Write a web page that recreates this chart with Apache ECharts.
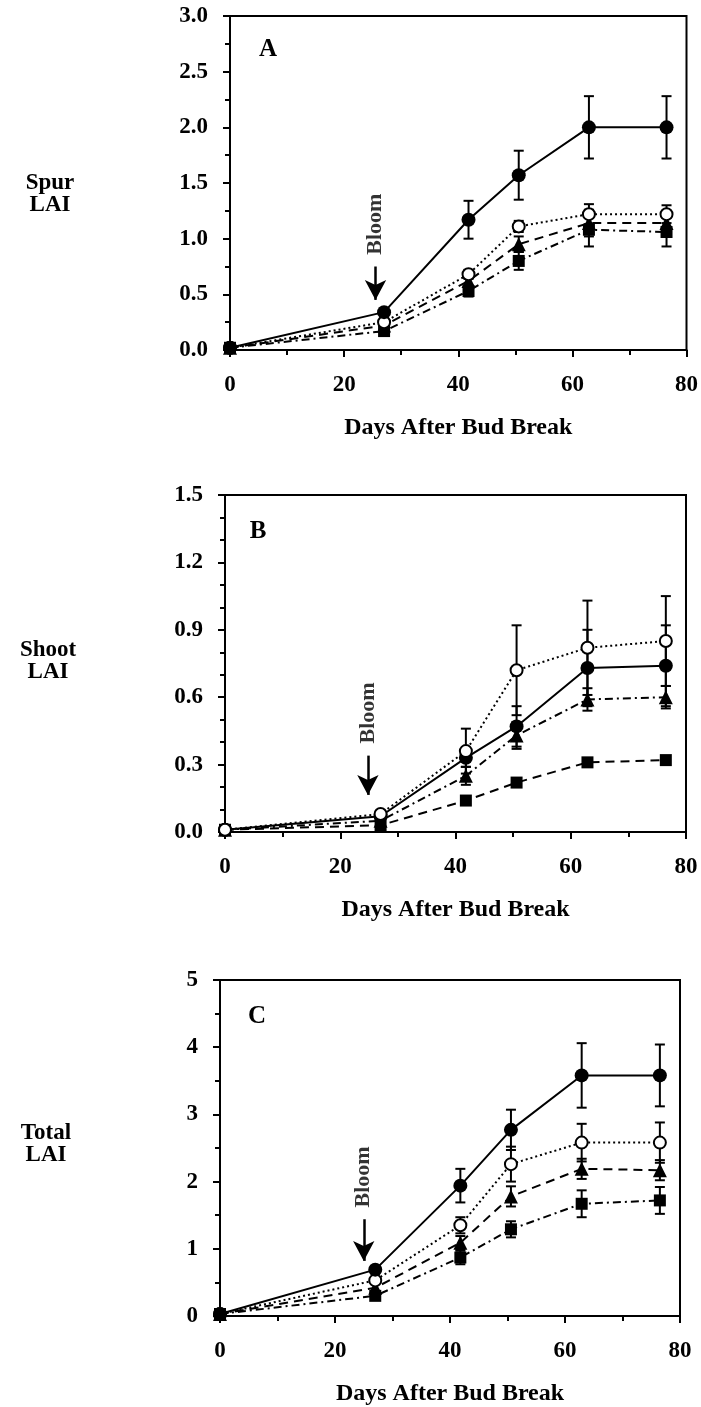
<!DOCTYPE html>
<html>
<head>
<meta charset="utf-8">
<script src="https://cdn.jsdelivr.net/npm/echarts@6/dist/echarts.min.js"></script>
<style>
  html, body { margin: 0; padding: 0; background: #fff; }
</style>
</head>
<body>
<div id="main" style="width: 701px;height:1407px;"></div>
<script type="text/javascript">
    // sampling days (x values shared by all panels)
    var days = [0, 27, 41.8, 50.6, 62.9, 76.5];
    var xTicks = [0, 20, 40, 60, 80];

    // A: spur LAI
    var spurFilled = [0.02, 0.34, 1.17, 1.57, 2.00, 2.00];
    var spurFilledErr = [0, 0.02, 0.17, 0.22, 0.28, 0.28];
    var spurOpen = [0.02, 0.25, 0.68, 1.11, 1.22, 1.22];
    var spurOpenErr = [0, 0, 0.04, 0.05, 0.09, 0.08];
    var spurTri = [0.02, 0.22, 0.62, 0.95, 1.14, 1.14];
    var spurTriErr = [0, 0, 0.05, 0.07, 0.12, 0.10];
    var spurSq = [0.02, 0.17, 0.53, 0.80, 1.08, 1.06];
    var spurSqErr = [0, 0.02, 0.05, 0.08, 0.15, 0.13];
    var spurTicks = [0, 0.5, 1.0, 1.5, 2.0, 2.5, 3.0];

    // B: shoot LAI
    var shootOpen = [0.01, 0.08, 0.36, 0.72, 0.82, 0.85];
    var shootOpenErr = [0, 0, 0.10, 0.20, 0.21, 0.20];
    var shootFilled = [0.01, 0.07, 0.33, 0.47, 0.73, 0.74];
    var shootFilledErr = [0, 0, 0.04, 0.09, 0.17, 0.18];
    var shootTri = [0.01, 0.05, 0.25, 0.43, 0.59, 0.60];
    var shootTriErr = [0, 0, 0.04, 0.06, 0.05, 0.05];
    var shootSq = [0.01, 0.03, 0.14, 0.22, 0.31, 0.32];
    var shootSqErr = [0, 0, 0, 0.01, 0.01, 0.01];
    var shootTicks = [0, 0.3, 0.6, 0.9, 1.2, 1.5];

    // C: total LAI
    var totalFilled = [0.03, 0.69, 1.94, 2.77, 3.58, 3.58];
    var totalFilledErr = [0, 0.05, 0.25, 0.30, 0.48, 0.46];
    var totalOpen = [0.03, 0.53, 1.35, 2.26, 2.58, 2.58];
    var totalOpenErr = [0, 0, 0.12, 0.26, 0.28, 0.30];
    var totalTri = [0.03, 0.42, 1.09, 1.78, 2.19, 2.17];
    var totalTriErr = [0, 0, 0.10, 0.15, 0.15, 0.15];
    var totalSq = [0.03, 0.30, 0.87, 1.29, 1.67, 1.72];
    var totalSqErr = [0, 0.05, 0.10, 0.12, 0.20, 0.20];
    var totalTicks = [0, 1, 2, 3, 4, 5];

    // bloom arrow: [day, arrow top, arrow tip, label centre] per panel
    var bloomA = [25.5, 0.75, 0.45, 1.13];
    var bloomB = [24.8, 0.34, 0.165, 0.53];
    var bloomC = [25.0, 1.44, 0.82, 2.07];

    var FONT = '"Liberation Serif", "Times New Roman", serif';
    var BLACK = '#000';

    var myChart = echarts.init(document.getElementById('main'));

    function pairs(ys) {
        return days.map(function (d, i) { return [d, ys[i]]; });
    }
    function errData(ys, es) {
        return days.map(function (d, i) { return [d, ys[i], es[i]]; });
    }

    function xAxisFor(idx) {
        return {
            gridIndex: idx, type: 'value',
            min: xTicks[0], max: xTicks[xTicks.length - 1], interval: 20,
            name: 'Days After Bud Break', nameLocation: 'middle', nameGap: 66,
            nameTextStyle: { fontFamily: FONT, fontWeight: 'bold', fontSize: 24, color: BLACK },
            axisLine: { show: true, onZero: false, lineStyle: { color: BLACK, width: 2 } },
            axisTick: { show: true, length: 7, lineStyle: { color: BLACK, width: 2 } },
            minorTick: { show: true, splitNumber: 2, length: 5, lineStyle: { color: BLACK, width: 2 } },
            splitLine: { show: false },
            axisLabel: { fontFamily: FONT, fontWeight: 'bold', fontSize: 23, color: BLACK, margin: 24 }
        };
    }

    function yAxisFor(idx, ticks, minorSplit, digits) {
        return {
            gridIndex: idx, type: 'value',
            min: ticks[0], max: ticks[ticks.length - 1], interval: ticks[1] - ticks[0],
            axisLine: { show: true, onZero: false, lineStyle: { color: BLACK, width: 2 } },
            axisTick: { show: true, length: 7, lineStyle: { color: BLACK, width: 2 } },
            minorTick: { show: true, splitNumber: minorSplit, length: 5, lineStyle: { color: BLACK, width: 2 } },
            splitLine: { show: false },
            axisLabel: {
                fontFamily: FONT, fontWeight: 'bold', fontSize: 23, color: BLACK, margin: 22,
                formatter: function (v) { return v.toFixed(digits); }
            }
        };
    }

    function lineSeries(idx, ys, symbol, size, open, dash) {
        return {
            type: 'line', xAxisIndex: idx, yAxisIndex: idx,
            data: pairs(ys), symbol: symbol, symbolSize: size, showSymbol: true,
            z: 3,
            lineStyle: { color: BLACK, width: 2, type: dash },
            itemStyle: open ? { color: '#fff', borderColor: BLACK, borderWidth: 2 }
                            : { color: BLACK, borderColor: BLACK, borderWidth: 0 }
        };
    }

    function errSeries(idx, ys, es) {
        return {
            type: 'custom', xAxisIndex: idx, yAxisIndex: idx,
            data: errData(ys, es), z: 2,
            encode: { x: 0, y: 1 },
            renderItem: function (params, api) {
                var x = api.value(0), y = api.value(1), e = api.value(2);
                if (!e) return null;
                var top = api.coord([x, y + e]);
                var bot = api.coord([x, y - e]);
                var w = 5;
                var st = { stroke: BLACK, lineWidth: 2 };
                return {
                    type: 'group',
                    children: [
                        { type: 'line', shape: { x1: top[0], y1: top[1], x2: bot[0], y2: bot[1] }, style: st },
                        { type: 'line', shape: { x1: top[0] - w, y1: top[1], x2: top[0] + w, y2: top[1] }, style: st },
                        { type: 'line', shape: { x1: bot[0] - w, y1: bot[1], x2: bot[0] + w, y2: bot[1] }, style: st }
                    ]
                };
            }
        };
    }

    function bloomSeries(idx, b) {
        return {
            type: 'scatter', xAxisIndex: idx, yAxisIndex: idx,
            data: [[b[0], b[3]]], symbolSize: 0, z: 4,
            label: {
                show: true, position: 'inside', rotate: 90,
                formatter: 'Bloom',
                fontFamily: FONT, fontWeight: 'bold', fontSize: 22, color: BLACK
            },
            markLine: {
                silent: true, symbol: ['none', 'arrow'], symbolSize: [16, 20],
                label: { show: false },
                lineStyle: { color: BLACK, width: 2.5, type: 'solid' },
                data: [[{ coord: [b[0], b[1]] }, { coord: [b[0], b[2]] }]]
            }
        };
    }

    var dotted = [2, 3];
    var dashed = [9, 6];
    var dashDot = [8, 4, 2, 4];

    var option = {
        animation: false,
        backgroundColor: '#fff',
        grid: [
            { left: 230, right: 11, top: 16, height: 334, show: true, borderColor: BLACK, borderWidth: 2 },
            { left: 225, right: 15, top: 495, height: 337, show: true, borderColor: BLACK, borderWidth: 2 },
            { left: 220, right: 21, top: 980, height: 337, show: true, borderColor: BLACK, borderWidth: 2 }
        ],
        xAxis: [xAxisFor(0), xAxisFor(1), xAxisFor(2)],
        yAxis: [
            yAxisFor(0, spurTicks, 2, 1),
            yAxisFor(1, shootTicks, 3, 1),
            yAxisFor(2, totalTicks, 2, 0)
        ],
        graphic: [
            { type: 'text', x: 50, y: 194, style: { text: 'Spur\nLAI', font: 'bold 23px ' + FONT, align: 'center', verticalAlign: 'middle', lineHeight: 22, fill: BLACK } },
            { type: 'text', x: 48, y: 661, style: { text: 'Shoot\nLAI', font: 'bold 23px ' + FONT, align: 'center', verticalAlign: 'middle', lineHeight: 22, fill: BLACK } },
            { type: 'text', x: 46, y: 1144, style: { text: 'Total\nLAI', font: 'bold 23px ' + FONT, align: 'center', verticalAlign: 'middle', lineHeight: 22, fill: BLACK } },
            { type: 'text', x: 268, y: 50, style: { text: 'A', font: 'bold 25px ' + FONT, align: 'center', verticalAlign: 'middle', fill: BLACK } },
            { type: 'text', x: 258, y: 532, style: { text: 'B', font: 'bold 25px ' + FONT, align: 'center', verticalAlign: 'middle', fill: BLACK } },
            { type: 'text', x: 257, y: 1017, style: { text: 'C', font: 'bold 25px ' + FONT, align: 'center', verticalAlign: 'middle', fill: BLACK } }
        ],
        series: [
            // panel A
            errSeries(0, spurSq, spurSqErr),
            errSeries(0, spurTri, spurTriErr),
            errSeries(0, spurOpen, spurOpenErr),
            errSeries(0, spurFilled, spurFilledErr),
            lineSeries(0, spurSq, 'rect', 12, false, dashDot),
            lineSeries(0, spurTri, 'triangle', 14, false, dashed),
            lineSeries(0, spurOpen, 'circle', 12, true, dotted),
            lineSeries(0, spurFilled, 'circle', 14, false, 'solid'),
            bloomSeries(0, bloomA),
            // panel B
            errSeries(1, shootSq, shootSqErr),
            errSeries(1, shootTri, shootTriErr),
            errSeries(1, shootFilled, shootFilledErr),
            errSeries(1, shootOpen, shootOpenErr),
            lineSeries(1, shootSq, 'rect', 12, false, dashed),
            lineSeries(1, shootTri, 'triangle', 14, false, dashDot),
            lineSeries(1, shootFilled, 'circle', 14, false, 'solid'),
            lineSeries(1, shootOpen, 'circle', 12, true, dotted),
            bloomSeries(1, bloomB),
            // panel C
            errSeries(2, totalSq, totalSqErr),
            errSeries(2, totalTri, totalTriErr),
            errSeries(2, totalOpen, totalOpenErr),
            errSeries(2, totalFilled, totalFilledErr),
            lineSeries(2, totalSq, 'rect', 12, false, dashDot),
            lineSeries(2, totalTri, 'triangle', 14, false, dashed),
            lineSeries(2, totalOpen, 'circle', 12, true, dotted),
            lineSeries(2, totalFilled, 'circle', 14, false, 'solid'),
            bloomSeries(2, bloomC)
        ]
    };

    myChart.setOption(option);
</script>
</body>
</html>
